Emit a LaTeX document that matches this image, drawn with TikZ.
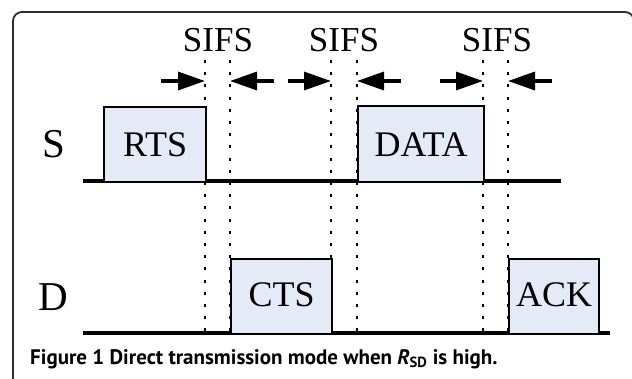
\documentclass[tikz,border=0pt]{standalone}
\usepackage{fontspec}
\setmainfont{Liberation Serif}
\newfontfamily\capfont{PT Sans}
\usetikzlibrary{arrows.meta}
\definecolor{boxfill}{RGB}{228,235,247}
\definecolor{framecol}{RGB}{45,45,45}
\begin{document}
\begin{tikzpicture}[x=1pt,y=-1pt,
  frame/.style={draw=framecol,line width=1.8pt,rounded corners=9pt},
  pkt/.style={draw=black,line width=2.3pt,fill=boxfill,inner sep=0pt,anchor=north west},
  axisline/.style={line width=3.2pt},
  dots/.style={line width=2.5pt,dash pattern=on 3pt off 9.2pt},
  sifsarrow/.style={line width=3.4pt,-{Triangle[length=27pt,width=18pt]}},
  pktlbl/.style={font=\fontsize{36}{40}\selectfont,anchor=base,inner sep=0pt},
  sifslbl/.style={font=\fontsize{35}{40}\selectfont,anchor=base,inner sep=0pt},
  rowlbl/.style={font=\fontsize{41}{44}\selectfont,anchor=base,inner sep=0pt},
  caplbl/.style={font=\capfont\bfseries\fontsize{21}{24}\selectfont,anchor=base west,inner sep=0pt}
]
\useasboundingbox (0,0) rectangle (632,378);
\clip (0,0) rectangle (632,378);
\draw[frame] (13,12) rectangle (634,400);

% dotted guide lines
\foreach \x [count=\i] in {205,230,331,357,483,508}{
  \coordinate (t\i) at (\x,60);
  \coordinate (b\i) at (\x,333);
  \draw[dots] (t\i) -- (b\i);
}

% time lines
\coordinate (s0) at (83,181);
\coordinate (s1) at (561,181);
\coordinate (d0) at (83,333);
\coordinate (d1) at (610,333);
\draw[axisline] (s0) -- (s1);
\draw[axisline] (d0) -- (d1);

% packets
\node[pkt,minimum width=102pt,minimum height=75pt] (rts) at (103,106) {};
\node[pkt,minimum width=126pt,minimum height=76pt] (data) at (357,105) {};
\node[pkt,minimum width=101pt,minimum height=75pt] (cts) at (230,258) {};
\node[pkt,minimum width=90pt,minimum height=75pt] (ack) at (508,258) {};
\node[pktlbl] (rtsl) at ([yshift=-50pt]rts.north) {RTS};
\node[pktlbl] (datal) at ([yshift=-51pt]data.north) {DATA};
\node[pktlbl] (ctsl) at ([yshift=-48pt]cts.north) {CTS};
\node[pktlbl] (ackl) at ([yshift=-48pt]ack.north) {ACK};

% row labels
\node[rowlbl] (S) at (54,157) {S};
\node[rowlbl] (D) at (53,310) {D};

% SIFS labels
\node[sifslbl] (sifs1) at (218,51) {SIFS};
\node[sifslbl] (sifs2) at (344,51) {SIFS};
\node[sifslbl] (sifs3) at (497,51) {SIFS};

% SIFS arrows
\coordinate (a1s) at (161,81); \coordinate (a1e) at (205,81);
\coordinate (a2s) at (274,81); \coordinate (a2e) at (230,81);
\coordinate (a3s) at (288,81); \coordinate (a3e) at (331,81);
\coordinate (a4s) at (401,81); \coordinate (a4e) at (357,81);
\coordinate (a5s) at (440,81); \coordinate (a5e) at (483,81);
\coordinate (a6s) at (552,81); \coordinate (a6e) at (508,81);
\foreach \i in {1,...,6}{\draw[sifsarrow] (a\i s) -- (a\i e);}

% caption
\node[caplbl] (cap) at (30,364) {Figure 1 Direct transmission mode when \textit{R}\textsubscript{SD} is high.};
\end{tikzpicture}
\end{document}
